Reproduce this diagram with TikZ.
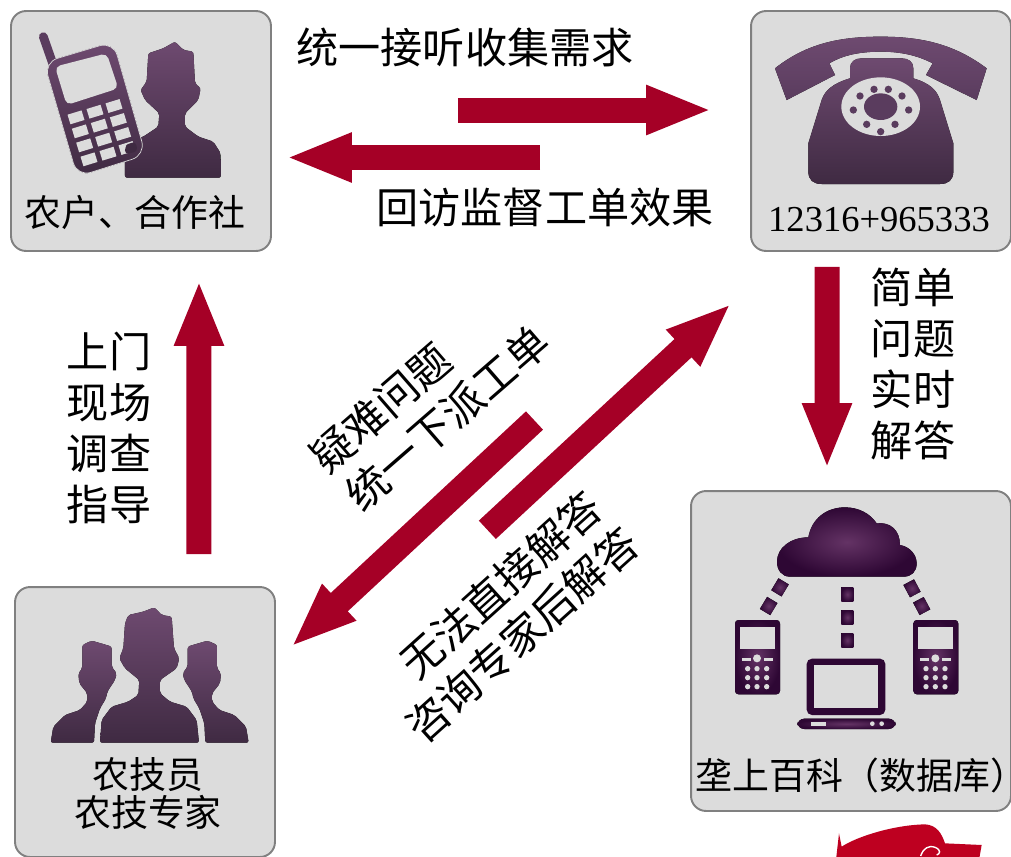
\documentclass[tikz,border=0pt]{standalone}
\usepackage{fontspec}
\setmainfont{Liberation Serif}
\newfontfamily\cjk{Noto Sans CJK SC}
\usetikzlibrary{arrows.meta}

\definecolor{boxfill}{HTML}{DCDCDC}
\definecolor{boxline}{HTML}{808080}
\definecolor{arrowred}{HTML}{A50026}
\definecolor{iconlight}{HTML}{6E4A70}
\definecolor{iconmid}{HTML}{5A3C5E}
\definecolor{icondark}{HTML}{3F2A42}
\definecolor{clouddark}{HTML}{2E0734}
\definecolor{cloudlight}{HTML}{643365}
\definecolor{flagred}{HTML}{BE0020}

\tikzset{
	panel/.style = {draw = boxline, line width = 1.1pt, fill = boxfill, rounded corners = 0.3cm, inner sep = 0pt},
	bigarrow/.style = {draw = arrowred, line width = 0.5cm, -{Triangle[length = 1.32cm, width = 0.9cm]}},
	bigtext/.style = {font = \cjk\fontsize{24}{29}\selectfont, align = center, inner sep = 0pt},
	paneltext/.style = {font = \cjk\fontsize{21}{21}\selectfont, align = center, inner sep = 0pt},
	person/.style = {top color = iconlight, bottom color = icondark, rounded corners = 1.2pt},
	cloudy/.style = {inner color = cloudlight, outer color = clouddark},
}

\begin{document}
\begin{tikzpicture}[x = 0.02cm, y = -0.02cm]
	\useasboundingbox (0,0) rectangle (1011,856);
	\def\sideman{(152,488) -- (160,440) -- (195,405) -- (240,390) -- (262,365) -- (262,340) -- (238,310) -- (235,280) -- (247,265) -- (247,195) -- (275,182) -- (320,195) -- (335,200) -- (335,260) -- (350,280) -- (345,300) -- (322,335) -- (318,355) -- (300,385) -- (285,430) -- (282,488) -- cycle}

	% panels
	\begin{scope}
		\node [panel, minimum width = 5.2cm, minimum height = 4.8cm] (farmer) at (141,131) {};
		\node [panel, minimum width = 5.2cm, minimum height = 4.8cm] (hotline) at (881,131) {};
		\node [panel, minimum width = 6.4cm, minimum height = 6.4cm] (baike) at (851,651) {};
		\node [panel, minimum width = 5.2cm, minimum height = 5.4cm] (experts) at (145,722) {};
	\end{scope}

	% farmer icon
	\begin{scope}[scale = 1/3]
		\fill [person] (375,533) -- (375,440) -- (390,425) -- (430,410) -- (475,380) -- (478,340) -- (435,300) -- (422,270) -- (440,245) -- (445,160) -- (490,145) -- (525,125) -- (550,150) -- (580,155) -- (585,250) -- (602,265) -- (595,300) -- (555,340) -- (555,380) -- (595,410) -- (640,425) -- (662,460) -- (663,533) -- cycle;
		\draw [iconmid, line width = 5pt, line cap = round] (130,110) -- (158,190);
		\fill [person, rounded corners = 8pt, draw = boxfill, line width = 0.4pt] (132,187) -- (340,125) -- (437,465) -- (232,530) -- cycle;
		\fill [boxfill, rounded corners = 3pt] (165,200) -- (320,160) -- (355,265) -- (200,315) -- cycle;
		\foreach \i in {0,1,2}
			\foreach \j in {0,1,2,3}
				\fill [boxfill, shift = {(228+57*\i+13*\j,352-17*\i+42*\j)}, rotate = 17] (-22,-15) rectangle (22,15);
		\fill [icondark, rounded corners = 2pt] (375,462) -- (375,440) -- (385,430) -- (408,426) -- (412,455) -- cycle;
	\end{scope}

	% telephone icon
	\begin{scope}[shift = {(740,0)}, scale = 1/3]
		\fill [top color = iconlight, bottom color = iconmid] (105,205) .. controls (200,130) and (300,110) .. (422,110) .. controls (540,110) and (640,130) .. (740,205) -- (710,300) -- (558,225) -- (578,190) .. controls (530,165) and (480,155) .. (422,155) .. controls (360,155) and (310,165) .. (268,190) -- (285,225) -- (140,300) -- cycle;
		\fill [top color = iconlight, bottom color = icondark] (330,205) .. controls (330,185) and (345,175) .. (365,175) -- (485,175) .. controls (505,175) and (520,185) .. (520,205) -- (520,235) .. controls (570,250) and (590,270) .. (600,300) -- (640,430) -- (640,515) .. controls (640,540) and (625,552) .. (600,552) -- (245,552) .. controls (220,552) and (205,540) .. (205,515) -- (205,430) -- (245,300) .. controls (255,270) and (280,250) .. (330,235) -- cycle;
		\fill [boxfill] (422,320) ellipse [x radius = 118, y radius = 88];
		\fill [iconmid] (422,320) ellipse [x radius = 50, y radius = 40];
		\foreach \px/\py in {340/330, 360/288, 402/268, 445/268, 486/288, 506/330, 465/373, 422/395, 380/373}
			\fill [iconmid] (\px,\py) circle [radius = 11];
	\end{scope}

	% cloud icon
	\begin{scope}[shift = {(680,480)}, scale = 1/3]
		\fill [cloudy] (330,290) .. controls (305,290) and (291,270) .. (291,245) .. controls (291,205) and (330,172) .. (385,172) .. controls (395,115) and (440,82) .. (495,82) .. controls (535,82) and (570,100) .. (590,130) .. controls (630,125) and (660,150) .. (660,195) .. controls (690,200) and (710,225) .. (710,250) .. controls (710,275) and (695,290) .. (670,290) -- cycle;
		\foreach \px/\py/\ang in {502/343/0, 502/412/0, 502/481/0, 300/322/-31, 266/378/-31, 696/325/28, 725/378/28}
			\fill [cloudy, shift = {(\px,\py)}, rotate = \ang] (-18,-21) rectangle (18,21);
		\foreach \dx in {0,535} {
			\begin{scope}[shift = {(\dx,0)}]
				\fill [cloudy, rounded corners = 2pt] (165,420) rectangle (300,643);
				\fill [boxfill] (180,440) rectangle (285,508);
				\fill [boxfill] (185,534) rectangle (212,542);
				\fill [boxfill] (252,534) rectangle (278,542);
				\fill [boxfill] (231,535) circle [radius = 12];
				\foreach \px in {203,231,260}
					\foreach \py in {566,593,620}
						\fill [boxfill] (\px,\py) circle [radius = 8];
			\end{scope}
		}
		\fill [clouddark, rounded corners = 3pt] (380,536) rectangle (616,705);
		\fill [boxfill] (403,555) rectangle (593,683);
		\fill [cloudy, rounded corners = 4pt] (352,716) rectangle (647,747);
		\fill [boxfill] (393,725) rectangle (437,738);
		\fill [boxfill] (577,731) circle [radius = 7];
		\fill [boxfill] (605,731) circle [radius = 7];
	\end{scope}

	% experts icon
	\begin{scope}[shift = {(0,580)}, scale = 1/3]
		\fill [person] \sideman;
		\begin{scope}[shift = {(898,0)}, xscale = -1]
			\fill [person] \sideman;
		\end{scope}
		\fill [person] (300,488) -- (305,420) -- (335,380) -- (385,365) -- (415,345) -- (418,300) -- (375,265) -- (358,235) -- (370,205) -- (375,130) -- (385,105) -- (430,95) -- (463,82) -- (485,105) -- (515,110) -- (522,205) -- (538,235) -- (530,265) -- (480,300) -- (480,340) -- (510,365) -- (560,380) -- (590,420) -- (597,488) -- cycle;
	\end{scope}

	% flag in the corner
	\begin{scope}[shift = {(680,480)}, scale = 1/3]
		\fill [flagred] (468,1140) -- (477,1060) -- (485,1100) .. controls (530,1070) and (640,1035) .. (735,1033) .. controls (770,1035) and (785,1060) .. (795,1090) -- (905,1095) -- (897,1140) -- cycle;
		\draw [white, line width = 0.8pt] (722,1128) .. controls (730,1105) and (745,1095) .. (765,1102) .. controls (785,1110) and (780,1122) .. (770,1125);
	\end{scope}

	% arrows
	\begin{scope}
		\draw [bigarrow, shorten <= 3.72cm, shorten >= 0.76cm] ([yshift = 0.42cm]farmer.east) -- ([yshift = 0.42cm]hotline.west);
		\draw [bigarrow, shorten <= 4.2cm, shorten >= 0.28cm] ([yshift = -0.53cm]hotline.west) -- ([yshift = -0.53cm]farmer.east);
		\draw [bigarrow, shorten <= 0.64cm, shorten >= 0.56cm] ([xshift = 1.08cm]experts.north) -- ([xshift = 1.16cm]farmer.south);
		\draw [bigarrow, shorten <= 0.3cm, shorten >= 0.42cm] ([xshift = -1.08cm]hotline.south) -- ([xshift = -0.48cm]baike.north);
		\draw [bigarrow, shorten <= 5.77cm, shorten >= 0.51cm] ([yshift = -0.08cm]experts.east) -- ([yshift = -3.1cm]hotline.west);
		\draw [bigarrow, shorten <= 5.89cm, shorten >= 0.41cm] ([yshift = -1.78cm]hotline.west) -- ([yshift = 1.22cm]experts.east);
	\end{scope}

	% panel labels
	\begin{scope}
		\node [paneltext] (farmerlabel) at (135,212) {农户、合作社};
		\node [inner sep = 0pt, font = \fontsize{20.8}{21}\selectfont] (hotlinelabel) at (879,220) {12316+965333};
		\node [paneltext, anchor = west] (baikelabel) at (695,775) {垄上百科（数据库）};
		\node [paneltext] (expertslabel1) at (148,775) {农技员};
		\node [paneltext] (expertslabel2) at (148,812) {农技专家};
	\end{scope}

	% arrow labels
	\begin{scope}
		\node [bigtext] (asktext) at (465,47) {统一接听收集需求};
		\node [bigtext] (visittext) at (545,208) {回访监督工单效果};
		\node [bigtext] (simpletext) at (913,364) {简单\\问题\\实时\\解答};
		\node [bigtext] (onsitetext) at (109,428) {上门\\现场\\调查\\指导};
		\node [bigtext, rotate = 41] (hardtext) at (381,408) {疑难问题};
		\node [bigtext, rotate = 41] (dispatchtext) at (447,418) {统一下派工单};
		\node [bigtext, rotate = 42] (nodirecttext) at (501,585) {无法直接解答};
		\node [bigtext, rotate = 42] (consulttext) at (522,635) {咨询专家后解答};
	\end{scope}
\end{tikzpicture}
\end{document}
